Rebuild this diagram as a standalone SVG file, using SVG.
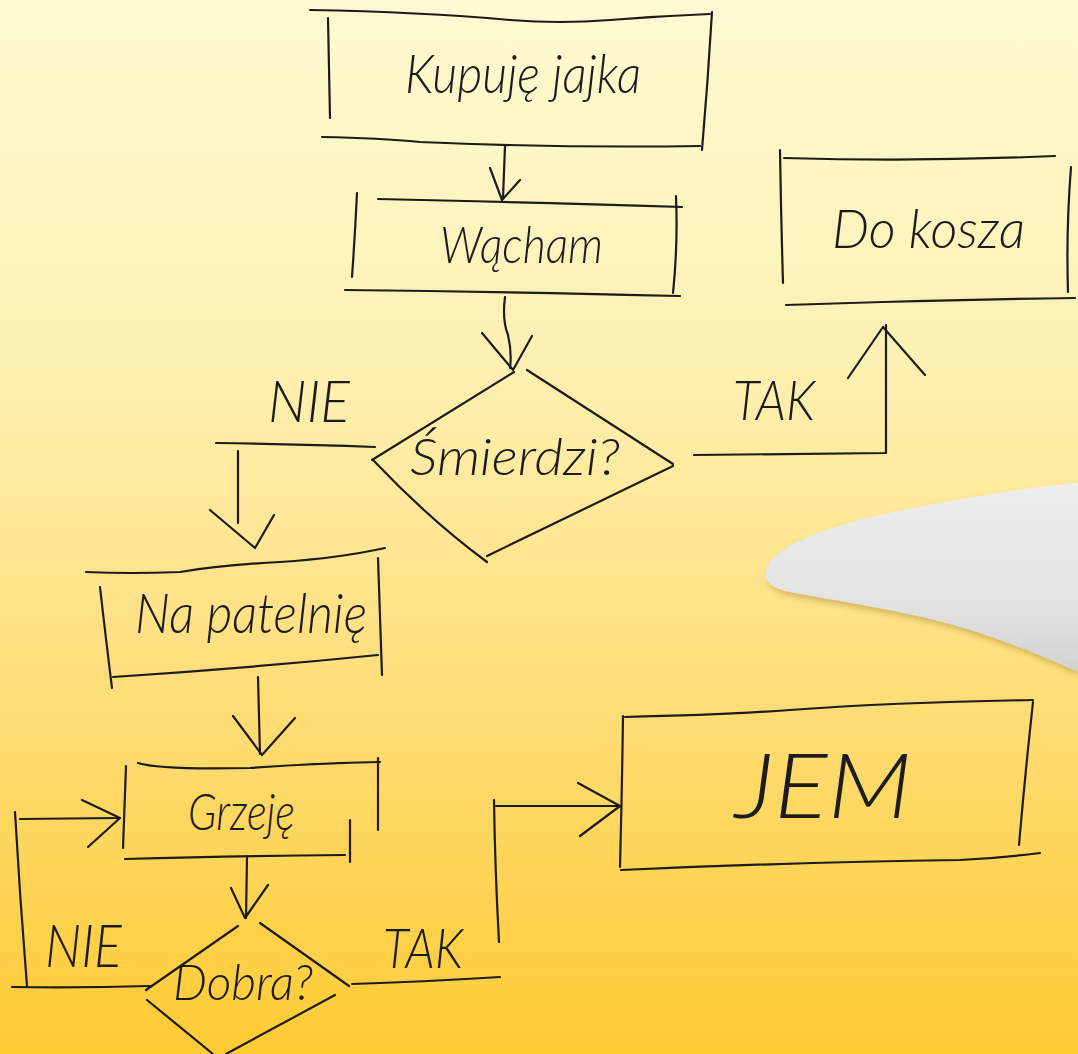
<svg xmlns="http://www.w3.org/2000/svg" width="1078" height="1054" viewBox="0 0 1078 1054">
<defs>
<linearGradient id="bg" x1="0" y1="0" x2="0" y2="1">
<stop offset="0" stop-color="#FFFAD2"/>
<stop offset="0.35" stop-color="#FEF0B2"/>
<stop offset="0.6" stop-color="#FFE184"/>
<stop offset="1" stop-color="#FFCB34"/>
</linearGradient>
<linearGradient id="knife" x1="0" y1="0" x2="0" y2="1">
<stop offset="0" stop-color="#EDEDED"/>
<stop offset="0.6" stop-color="#E4E4E4"/>
<stop offset="1" stop-color="#D2D2D2"/>
</linearGradient>
<filter id="sh" x="-10%" y="-20%" width="130%" height="150%">
<feDropShadow dx="3" dy="4" stdDeviation="3" flood-color="#9a7a20" flood-opacity="0.45"/>
</filter>
<style>
.s{fill:none;stroke:#1c1c1c;stroke-width:2.2;stroke-linecap:round;stroke-linejoin:round}
.t{font-family:Lato,"DejaVu Sans Condensed",sans-serif;font-style:italic;font-weight:300;fill:#1c1c1c}
</style>
</defs>
<rect width="1078" height="1054" fill="url(#bg)"/>
<path d="M766 572 C768 550 815 530 880 515 C950 500 1020 488 1078 483 L1078 672 C1040 655 1000 638 950 624 C890 608 830 600 790 592 C772 588 764 582 766 572 Z" fill="url(#knife)" filter="url(#sh)"/>

<g id="n1">
<path class="s" d="M310 10 Q420 12 510 20 Q560 24 610 20 Q660 16 710 14"/>
<path class="s" d="M328 18 Q329 70 330 118"/>
<path class="s" d="M712 12 Q708 80 702 150"/>
<path class="s" d="M322 137 Q380 138 420 142 Q560 148 700 146"/>
<text class="t" x="405" y="93" font-size="54" textLength="236" lengthAdjust="spacingAndGlyphs">Kupuję jajka</text>
</g>

<g id="n2">
<path class="s" d="M378 199 Q520 202 682 207"/>
<path class="s" d="M357 193 Q355 235 352 277"/>
<path class="s" d="M676 196 Q678 245 673 293"/>
<path class="s" d="M345 290 Q520 292 680 296"/>
<text class="t" x="440" y="263" font-size="52" textLength="163" lengthAdjust="spacingAndGlyphs">Wącham</text>
</g>

<g id="n3">
<path class="s" d="M784 158 Q920 162 1055 156"/>
<path class="s" d="M780 150 Q781 215 783 283"/>
<path class="s" d="M1071 167 Q1066 230 1068 292"/>
<path class="s" d="M786 305 Q930 300 1075 298"/>
<text class="t" x="832" y="248" font-size="54" textLength="193" lengthAdjust="spacingAndGlyphs">Do kosza</text>
</g>

<g id="n4">
<path class="s" d="M372 460 L514 372"/>
<path class="s" d="M527 370 L673 464"/>
<path class="s" d="M673 466 L487 556"/>
<path class="s" d="M374 461 Q430 520 487 562"/>
<text class="t" x="410" y="475" font-size="52" textLength="210" lengthAdjust="spacingAndGlyphs">Śmierdzi?</text>
</g>

<g id="n5">
<path class="s" d="M86 572 Q130 574 180 572 Q220 565 280 562 Q340 558 385 548"/>
<path class="s" d="M100 587 Q106 640 112 688"/>
<path class="s" d="M378 558 Q380 620 382 675"/>
<path class="s" d="M113 677 Q250 668 378 655"/>
<text class="t" x="135" y="633" font-size="56" textLength="232" lengthAdjust="spacingAndGlyphs">Na patelnię</text>
</g>

<g id="n6">
<path class="s" d="M138 763 Q160 770 250 768 Q320 763 380 762"/>
<path class="s" d="M126 766 L123 848"/>
<path class="s" d="M378 758 L378 830"/>
<path class="s" d="M350 820 L350 862"/>
<path class="s" d="M125 859 Q240 856 345 855"/>
<text class="t" x="188" y="830" font-size="52" textLength="107" lengthAdjust="spacingAndGlyphs">Grzeję</text>
</g>

<g id="n7">
<path class="s" d="M146 990 L238 926"/>
<path class="s" d="M260 923 L349 986"/>
<path class="s" d="M335 995 L226 1054"/>
<path class="s" d="M147 1000 L213 1054"/>
<text class="t" x="173" y="1000" font-size="50" textLength="140" lengthAdjust="spacingAndGlyphs">Dobra?</text>
</g>

<g id="n8">
<path class="s" d="M625 717 Q720 715 790 710 Q900 702 1033 700"/>
<path class="s" d="M623 716 Q622 790 620 867"/>
<path class="s" d="M1033 702 Q1025 775 1019 845"/>
<path class="s" d="M621 870 Q800 862 960 860 Q1000 858 1040 853"/>
<text class="t" x="735" y="818" font-size="90" textLength="177" lengthAdjust="spacingAndGlyphs">JEM</text>
</g>

<g id="connectors">
<path class="s" d="M505 146 L503 198"/>
<path class="s" d="M490 168 L502 200 L520 180"/>
<path class="s" d="M505 297 Q502 320 508 335 Q512 352 510 368"/>
<path class="s" d="M482 333 L513 370 L532 336"/>
<path class="s" d="M216 443 Q300 444 375 447"/>
<path class="s" d="M238 451 L238 523"/>
<path class="s" d="M210 510 L255 548 L274 515"/>
<path class="s" d="M694 455 L886 453 L886 325"/>
<path class="s" d="M848 378 L883 327 L925 375"/>
<path class="s" d="M258 677 L260 754"/>
<path class="s" d="M233 716 L262 755 L295 718"/>
<path class="s" d="M247 858 L246 918"/>
<path class="s" d="M231 888 L245 918 L268 885"/>
<path class="s" d="M150 986 Q80 988 12 987"/>
<path class="s" d="M27 986 Q20 900 15 812"/>
<path class="s" d="M20 819 L120 818"/>
<path class="s" d="M82 800 L120 818 L88 847"/>
<path class="s" d="M352 984 Q420 982 500 977"/>
<path class="s" d="M499 942 Q495 870 494 800"/>
<path class="s" d="M496 806 L620 806"/>
<path class="s" d="M578 783 L620 806 L580 836"/>
<text class="t" x="268" y="422" font-size="58" textLength="82" lengthAdjust="spacingAndGlyphs">NIE</text>
<text class="t" x="733" y="420" font-size="56" textLength="82" lengthAdjust="spacingAndGlyphs">TAK</text>
<text class="t" x="45" y="967" font-size="60" textLength="77" lengthAdjust="spacingAndGlyphs">NIE</text>
<text class="t" x="383" y="968" font-size="56" textLength="80" lengthAdjust="spacingAndGlyphs">TAK</text>
</g>
</svg>
